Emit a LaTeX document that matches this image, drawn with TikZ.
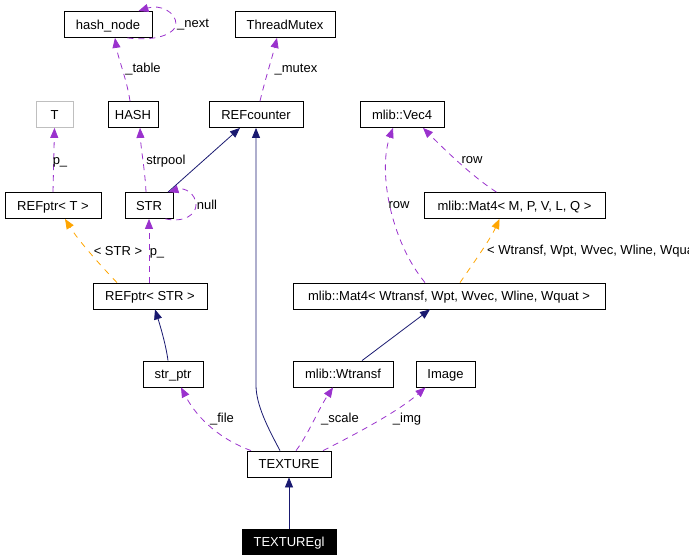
\documentclass[tikz,border=0pt]{standalone}
\usepackage{fontspec}
\setmainfont{Liberation Sans}
\usetikzlibrary{arrows.meta}
\definecolor{dgpurple}{HTML}{9A32CD}
\definecolor{dgnavy}{HTML}{191970}
\definecolor{dgorange}{HTML}{FFA500}
\definecolor{dggray}{HTML}{BFBFBF}
\begin{document}
\begin{tikzpicture}[x=1pt,y=-1pt,font=\fontsize{13}{15}\selectfont,
  cls/.style={draw=black,line width=0.8pt,rectangle,minimum height=26pt,inner sep=0pt,fill=white,text height=9.4pt,text depth=0pt},
  ghost/.style={cls,draw=dggray},
  selfcls/.style={cls,fill=black,text=white},
  inh/.style={draw=dgnavy,line width=0.8pt,-{Triangle[length=10pt,width=8pt]}},
  use/.style={draw=dgpurple,line width=0.8pt,dash pattern=on 6pt off 5pt,-{Triangle[length=10pt,width=8pt]}},
  tmpl/.style={draw=dgorange,line width=0.8pt,dash pattern=on 6pt off 6pt,-{Triangle[length=10pt,width=8pt]}},
  lbl/.style={inner sep=0pt,text height=9.4pt,text depth=0pt}]
\useasboundingbox (0,0) rectangle (689,560);
\clip (0,0) rectangle (689,560);
% nodes
\node[cls,minimum width=88pt] (hashnode) at (108,24.5) {hash\_node};
\node[cls,minimum width=100pt] (mutex) at (285,24.5) {ThreadMutex};
\node[ghost,minimum width=37pt] (T) at (54.5,114.5) {T};
\node[cls,minimum width=50pt] (HASH) at (133,114.5) {HASH};
\node[cls,minimum width=94pt] (refc) at (256,114.5) {REFcounter};
\node[cls,minimum width=84pt] (vec4) at (402,114.5) {mlib::Vec4};
\node[cls,minimum width=96pt] (refptrT) at (53,205.5) {REFptr< T >};
\node[cls,minimum width=48pt] (STR) at (149,205.5) {STR};
\node[cls,minimum width=181pt] (mat4g) at (514.5,205.5) {mlib::Mat4< M, P, V, L, Q >};
\node[cls,minimum width=114pt] (refptrS) at (150,296) {REFptr< STR >};
\node[cls,minimum width=312pt] (mat4w) at (449,296) {mlib::Mat4< Wtransf, Wpt, Wvec, Wline, Wquat >};
\node[cls,minimum width=60pt] (strptr) at (173,374) {str\_ptr};
\node[cls,minimum width=100pt] (wtransf) at (343,374) {mlib::Wtransf};
\node[cls,minimum width=59pt] (image) at (445.5,374) {Image};
\node[cls,minimum width=84pt] (texture) at (289,464) {TEXTURE};
\node[selfcls,minimum width=94pt,minimum height=25pt] (texgl) at (289,541.5) {TEXTUREgl};
% edges
\draw[use] ([xshift=-3pt]HASH.north) .. controls (127,80) and (118,58) .. ([xshift=7pt]hashnode.south);
\node[lbl] (ltable) at (143,68) {\_table};
\draw[use] ([xshift=4pt]refc.north) .. controls (265,80) and (272,58) .. ([xshift=-8pt]mutex.south);
\node[lbl] (lmutex) at (296,68) {\_mutex};
\draw[use] ([xshift=-25pt]hashnode.south east) .. controls (160,42) and (176,32) .. (176,24) .. controls (176,12) and (160,4) .. ([xshift=-14pt]hashnode.north east);
\node[lbl] (lnext) at (193,23) {\_next};
\draw[use] (refptrT.north) -- (T.south);
\node[lbl] (lpT) at (60,160) {p\_};
\draw[use] ([xshift=-3pt]STR.north) .. controls (145,170) and (141,150) .. ([xshift=7pt]HASH.south);
\node[lbl] (lstrpool) at (166,160) {strpool};
\draw[inh] ([xshift=19pt]STR.north) -- ([xshift=-16pt]refc.south);
\draw[use] ([xshift=-8pt]STR.south east) .. controls (185,223) and (196,214) .. (196,205) .. controls (196,194) and (185,187) .. ([xshift=-5pt]STR.north east);
\node[lbl] (lnull) at (207,205) {null};
\draw[tmpl] ([xshift=-33pt]refptrS.north) .. controls (100,265) and (78,240) .. ([xshift=12pt]refptrT.south);
\node[lbl] (lstr) at (118,251) {< STR >};
\draw[use] ([xshift=-1pt]refptrS.north) -- (STR.south);
\node[lbl] (lpS) at (157,251) {p\_};
\draw[inh] ([xshift=-5pt]strptr.north) .. controls (166,345) and (160,325) .. ([xshift=5pt]refptrS.south);
\draw[inh] ([xshift=-9pt]texture.north) .. controls (268,428) and (256,405) .. (256,385) -- (refc.south);
\draw[use] ([xshift=-38pt]texture.north) .. controls (222,440) and (198,420) .. ([xshift=8pt]strptr.south);
\node[lbl] (lfile) at (222,418) {\_file};
\draw[use] ([xshift=7pt]texture.north) .. controls (308,435) and (318,410) .. ([xshift=-10pt]wtransf.south);
\node[lbl] (lscale) at (340,418) {\_scale};
\draw[use] ([xshift=34pt]texture.north) .. controls (360,432) and (400,410) .. ([xshift=-20pt]image.south);
\node[lbl] (limg) at (407,418) {\_img};
\draw[inh] (texgl.north) -- (texture.south);
\draw[inh] ([xshift=19pt]wtransf.north) -- ([xshift=-19pt]mat4w.south);
\draw[tmpl] ([xshift=11pt]mat4w.north) .. controls (470,268) and (490,240) .. ([xshift=-15pt]mat4g.south);
\node[lbl,anchor=west] (lwt) at (487,250) {< Wtransf, Wpt, Wvec, Wline, Wquat >};
\draw[use] ([xshift=-24pt]mat4w.north) .. controls (390,240) and (378,170) .. ([xshift=-9pt]vec4.south);
\node[lbl] (lrow1) at (399,204) {row};
\draw[use] ([xshift=-18pt]mat4g.north) .. controls (470,175) and (440,145) .. ([xshift=21pt]vec4.south);
\node[lbl] (lrow2) at (472,159) {row};
\end{tikzpicture}
\end{document}
